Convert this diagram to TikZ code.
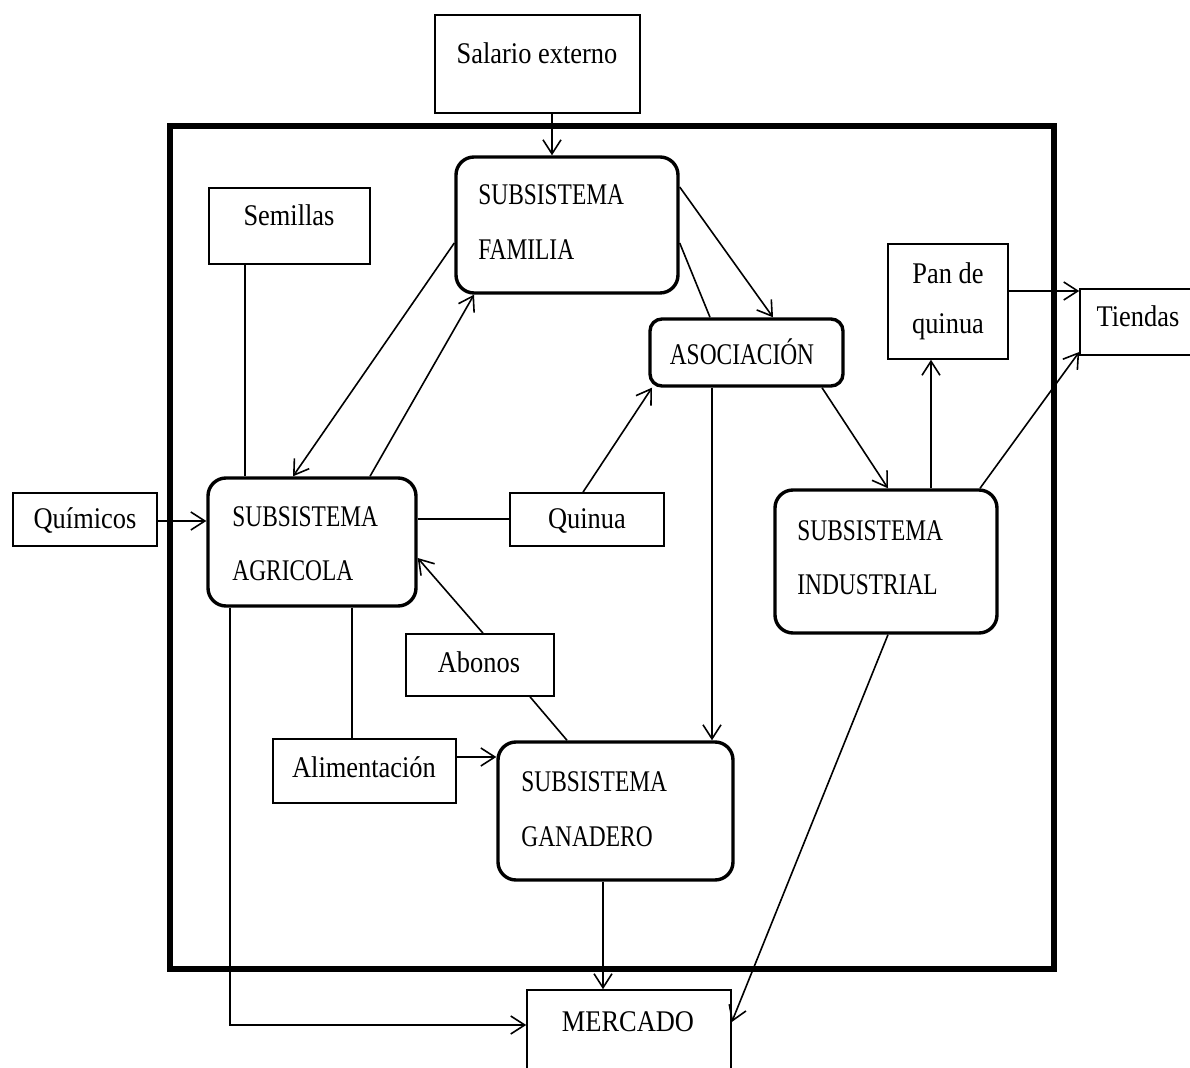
\documentclass[tikz,border=0pt]{standalone}
\usepackage{fontspec}
\setmainfont{Liberation Serif}[FakeStretch=0.88]
\newfontfamily\subf{Liberation Serif}[FakeStretch=0.78]
\usetikzlibrary{arrows.meta}
\begin{document}
\begin{tikzpicture}[x=0.5pt,y=-0.5pt,
  plainbox/.style={draw, line width=0.8pt, inner sep=0pt},
  subbox/.style={draw, line width=1.7pt, rounded corners=9pt, inner sep=0pt},
  txt/.style={inner sep=0pt, font=\fontsize{15pt}{18pt}\selectfont},
  captxt/.style={inner sep=0pt, font=\fontsize{15pt}{18pt}\subf, anchor=west},
  conn/.style={line width=0.8pt},
  arr/.style={conn, -{Straight Barb[length=7pt,width=9pt,line width=0.8pt]}}]
\useasboundingbox[fill=white] (0,0) rectangle (1190,1068);
% outer system frame
\draw[line width=3pt] (170,126) rectangle (1054,969);

% boxes
\node[plainbox, minimum width=102.5pt, minimum height=49pt] (sal) at (537.5,64) {};
\node[subbox, minimum width=111pt, minimum height=68pt] (fam) at (567,225) {};
\node[plainbox, minimum width=80.5pt, minimum height=38pt] (sem) at (289.5,226) {};
\node[subbox, minimum width=96.5pt, minimum height=33.5pt, rounded corners=6pt] (aso) at (746.5,352.5) {};
\node[plainbox, minimum width=60pt, minimum height=57.5pt] (pan) at (948,301.5) {};
\node[plainbox, minimum width=60pt, minimum height=33pt] (tie) at (1140,322) {};
\node[plainbox, minimum width=72pt, minimum height=26.5pt] (qui) at (85,519.5) {};
\node[subbox, minimum width=104pt, minimum height=64pt] (agr) at (312,542) {};
\node[plainbox, minimum width=77pt, minimum height=26.5pt] (quin) at (587,519.5) {};
\node[subbox, minimum width=111pt, minimum height=71.5pt] (ind) at (886,561.5) {};
\node[plainbox, minimum width=74pt, minimum height=31pt] (abo) at (480,665) {};
\node[plainbox, minimum width=91.5pt, minimum height=32pt] (ali) at (364.5,771) {};
\node[subbox, minimum width=117.5pt, minimum height=69pt] (gan) at (615.5,811) {};
\node[plainbox, minimum width=102pt, minimum height=45pt] (mer) at (629,1035) {};

% texts
\node[txt] (salT) at (537,53) {Salario externo};
\node[captxt] (famT1) at (478,195) {SUBSISTEMA};
\node[captxt] (famT2) at (478,250) {FAMILIA};
\node[txt] (semT) at (289,215) {Semillas};
\node[txt, font=\fontsize{15pt}{18pt}\subf] (asoT) at (742,352) {ASOCIACIÓN};
\node[txt] (panT1) at (948,273) {Pan de};
\node[txt] (panT2) at (948,327) {quinua};
\node[txt] (tieT) at (1138,316) {Tiendas};
\node[txt] (quiT) at (85,521) {Químicos};
\node[captxt] (agrT1) at (232,517) {SUBSISTEMA};
\node[captxt] (agrT2) at (232,571) {AGRICOLA};
\node[txt] (quinT) at (587,521) {Quinua};
\node[captxt] (indT1) at (797,531) {SUBSISTEMA};
\node[captxt] (indT2) at (797,585) {INDUSTRIAL};
\node[txt] (aboT) at (479,662) {Abonos};
\node[txt] (aliT) at (364,767) {Alimentación};
\node[captxt] (ganT1) at (521,782) {SUBSISTEMA};
\node[captxt] (ganT2) at (521,837) {GANADERO};
\node[txt] (merT) at (628,1022) {MERCADO};

% connectors
\draw[arr] (sal.south -| 552,0) -- (fam.north -| 552,0);
\draw[arr] (fam.west |- 0,243) -- (agr.north -| 293,0);
\draw[arr] (agr.north -| 370,0) -- (fam.south -| 474,0);
\draw[arr] (fam.east |- 0,187) -- (aso.north -| 773,0);
\draw[conn] (fam.east |- 0,243) -- (aso.north -| 710,0);
\draw[arr] (aso.south -| 712,0) -- (gan.north -| 712,0);
\draw[arr] (aso.south -| 822,0) -- (ind.north -| 888,0);
\draw[arr] (quin.north -| 583,0) -- (aso.south -| 652,0);
\draw[conn] (agr.east |- 0,519) -- (quin.west |- 0,519);
\draw[arr] (qui.east |- 0,521) -- (agr.west |- 0,521);
\draw[conn] (sem.south -| 245,0) -- (agr.north -| 245,0);
\draw[conn] (agr.south -| 352,0) -- (ali.north -| 352,0);
\draw[arr] (ali.east |- 0,757) -- (gan.west |- 0,757);
\draw[arr] (abo.north -| 483,0) -- (agr.east |- 0,558);
\draw[conn] (abo.south -| 530,0) -- (gan.north -| 567,0);
\draw[arr] (agr.south -| 230,0) |- (mer.west |- 0,1025);
\draw[arr] (gan.south -| 603,0) -- (mer.north -| 603,0);
\draw[arr] (ind.south -| 888,0) -- (mer.east |- 0,1022);
\draw[arr] (ind.north -| 931,0) -- (pan.south -| 931,0);
\draw[arr] (ind.north -| 980,0) -- (tie.west |- 0,352);
\draw[arr] (pan.east |- 0,291) -- (tie.west |- 0,291);
\end{tikzpicture}
\end{document}
